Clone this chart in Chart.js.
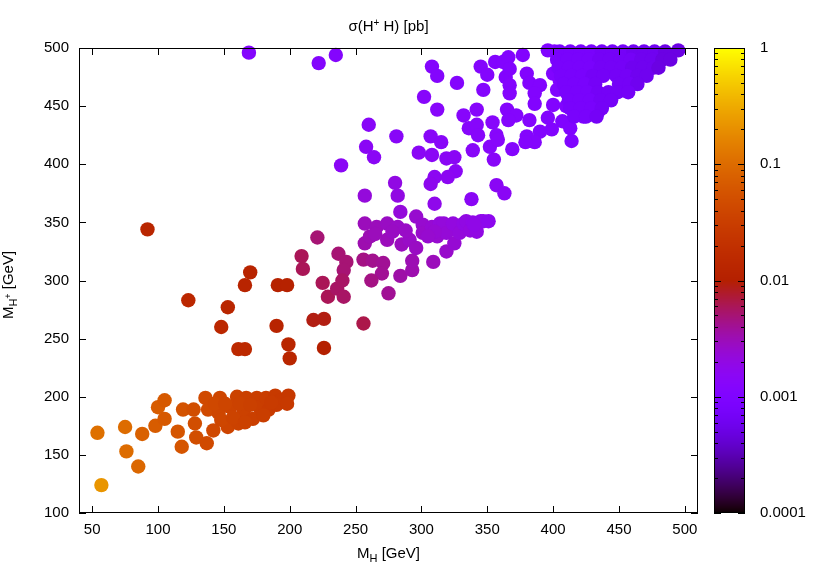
<!DOCTYPE html>
<html>
<head>
<meta charset="utf-8">
<script src="https://cdn.jsdelivr.net/npm/chart.js@4/dist/chart.umd.min.js"></script>
<style>
  html, body { margin: 0; padding: 0; background: #fff; }
</style>
</head>
<body>
<canvas id="grafico" width="830" height="581"></canvas>
<script>
// Massas (GeV) e seções de choque (pb), ponto a ponto
const mH = [
  57, 54, 75, 76, 85, 88, 98, 100, 105, 105,
  115, 118, 119, 127, 128, 129, 137, 136, 142, 138,
  147, 146, 153, 148, 160, 155, 161, 167, 165, 172,
  175, 177, 184, 182, 189, 193, 199, 190, 198, 143,
  151, 162, 170, 157, 166, 180, 186,
  92, 123, 153, 148, 161, 166, 166, 170, 190, 191,
  198, 199, 200, 218, 226, 226, 256,
  209, 210, 221, 225, 229, 236, 237, 243, 241, 240,
  241, 256, 263, 271, 270, 262, 275, 284, 293, 293,
  309,
  257, 257, 261, 266, 274, 274, 282, 285, 291, 296,
  301, 301, 296, 308, 312, 314, 317, 319, 319, 324,
  325, 329, 332, 334, 337, 339, 342, 345, 347, 351,
  340, 310, 288, 278, 305, 265, 257, 282, 284, 310,
  338, 326, 320, 310, 307, 280,
  169, 222, 235, 239, 260, 258, 264, 281, 302, 308,
  312, 312, 307, 315, 298, 308, 319, 325, 327, 332,
  336, 342, 343, 339, 342, 345, 350, 347, 356, 354,
  357, 352, 355, 357, 363, 358, 362, 366, 377, 364,
  367, 380, 367, 367, 382, 390, 386, 386, 365, 372,
  382, 366, 396, 407, 413, 399, 390, 380, 386, 379,
  369, 414, 396, 401, 400, 405, 410, 403, 400, 410,
  419, 418, 419, 423, 423, 434,
  405, 413, 421, 429, 437, 445, 453, 461, 469, 477,
  485, 495, 403, 411, 419, 427, 435, 443, 451, 459,
  467, 475, 483, 489, 404, 412, 420, 428, 436, 444,
  452, 460, 468, 476, 480, 406, 414, 422, 430, 438,
  448, 456, 464, 471, 408, 416, 424, 432, 450, 458,
  464, 410, 418, 426, 434, 442, 449, 457, 412, 420,
  428, 436, 444, 413, 421, 429, 437, 416, 425, 433
];
const mHp = [
  124, 169, 174, 153, 140, 168, 175, 191, 197, 181,
  170, 157, 189, 189, 177, 165, 160, 199, 171, 189,
  199, 186, 174, 180, 200, 191, 177, 199, 187, 181,
  199, 191, 189, 199, 201, 197, 201, 193, 194, 194,
  194, 194, 193, 182, 178, 184, 195,
  344, 283, 277, 260, 241, 241, 296, 307, 261, 296,
  296, 245, 233, 266, 267, 242, 263,
  321, 310, 337, 298, 286, 293, 323, 316, 309, 300,
  286, 318, 317, 315, 306, 300, 289, 304, 309, 317,
  316,
  349, 332, 338, 346, 349, 335, 346, 331, 335, 355,
  348, 341, 328, 346, 338, 349, 349, 341, 325, 349,
  332, 341, 349, 351, 343, 350, 342, 351, 351, 351,
  348, 342, 343, 342, 338, 340, 373, 373, 359, 366,
  370, 394, 389, 389, 383, 384,
  496, 487, 494, 399, 434, 415, 406, 424, 458, 484,
  476, 447, 424, 419, 410, 408, 405, 406, 470, 442,
  431, 434, 425, 412, 447, 484, 477, 464, 488, 436,
  425, 415, 404, 382, 375, 421, 488, 492, 494, 475,
  482, 478, 468, 461, 470, 468, 461, 452, 447, 442,
  438, 438, 440, 437, 431, 430, 428, 424, 419, 419,
  413, 420, 498, 497, 478, 472, 481, 464, 451, 450,
  490, 472, 461, 452, 441, 445,
  497, 497, 497, 497, 497, 497, 497, 497, 497, 497,
  497, 498, 490, 490, 490, 490, 490, 490, 490, 490,
  490, 490, 490, 490, 483, 483, 483, 483, 483, 483,
  483, 483, 483, 483, 483, 476, 476, 476, 476, 476,
  476, 476, 476, 476, 469, 469, 469, 469, 469, 469,
  469, 462, 462, 462, 462, 462, 462, 462, 455, 455,
  455, 455, 455, 448, 448, 448, 448, 441, 441, 441
];
const sigma = [
  0.22, 0.11, 0.1, 0.1, 0.09, 0.08, 0.07, 0.07, 0.065, 0.065,
  0.06, 0.06, 0.055, 0.05, 0.05, 0.05, 0.045, 0.045, 0.042, 0.045,
  0.04, 0.04, 0.038, 0.04, 0.035, 0.037, 0.035, 0.033, 0.034, 0.032,
  0.031, 0.031, 0.029, 0.03, 0.028, 0.027, 0.026, 0.028, 0.027, 0.042,
  0.039, 0.035, 0.033, 0.037, 0.034, 0.031, 0.029,
  0.013, 0.014, 0.013, 0.014, 0.015, 0.015, 0.012, 0.012, 0.012, 0.011,
  0.011, 0.013, 0.013, 0.009, 0.009, 0.01, 0.0065,
  0.006, 0.006, 0.005, 0.006, 0.006, 0.0055, 0.005, 0.005, 0.005, 0.0055,
  0.0055, 0.0045, 0.0042, 0.004, 0.004, 0.0045, 0.004, 0.0035, 0.0033, 0.0032,
  0.003,
  0.003, 0.0033, 0.0032, 0.003, 0.0028, 0.003, 0.0027, 0.0029, 0.0027, 0.0025,
  0.0025, 0.0026, 0.0028, 0.0024, 0.0025, 0.0022, 0.0022, 0.0023, 0.0026, 0.0021,
  0.0024, 0.0022, 0.002, 0.002, 0.0021, 0.0019, 0.002, 0.0018, 0.0018, 0.0017,
  0.0019, 0.0024, 0.0027, 0.0028, 0.0025, 0.003, 0.0022, 0.002, 0.0022, 0.0018,
  0.0015, 0.0015, 0.0016, 0.0016, 0.0017, 0.002,
  0.0012, 0.0012, 0.0012, 0.0015, 0.0014, 0.0015, 0.0015, 0.0014, 0.0013, 0.0012,
  0.0012, 0.0013, 0.0014, 0.0014, 0.0015, 0.0015, 0.0015, 0.0015, 0.0012, 0.0013,
  0.0013, 0.0013, 0.0013, 0.0014, 0.0013, 0.0012, 0.0012, 0.0012, 0.0011, 0.0013,
  0.0013, 0.0013, 0.0014, 0.0015, 0.0015, 0.0013, 0.0011, 0.0011, 0.0011, 0.0011,
  0.0011, 0.0011, 0.0012, 0.0012, 0.0011, 0.0011, 0.0011, 0.0011, 0.0012, 0.0012,
  0.0012, 0.0012, 0.0011, 0.001, 0.001, 0.0011, 0.0011, 0.0012, 0.0012, 0.0012,
  0.0012, 0.001, 0.001, 0.001, 0.001, 0.001, 0.001, 0.001, 0.0011, 0.001,
  0.001, 0.001, 0.001, 0.001, 0.001, 0.00095,
  0.0008, 0.0008, 0.0008, 0.0008, 0.0007, 0.0007, 0.0007, 0.0006, 0.0006, 0.0006,
  0.0005, 0.0005, 0.0008, 0.0008, 0.0008, 0.0008, 0.0007, 0.0007, 0.0007, 0.0007,
  0.0006, 0.0006, 0.0005, 0.0005, 0.0008, 0.0008, 0.0008, 0.0008, 0.0007, 0.0007,
  0.0007, 0.0006, 0.0006, 0.0006, 0.0005, 0.0008, 0.0008, 0.0008, 0.0007, 0.0007,
  0.0007, 0.0007, 0.0006, 0.0006, 0.0008, 0.0008, 0.0008, 0.0007, 0.0007, 0.0007,
  0.0006, 0.0008, 0.0008, 0.0008, 0.0007, 0.0007, 0.0007, 0.0007, 0.0008, 0.0008,
  0.0008, 0.0007, 0.0007, 0.0008, 0.0008, 0.0008, 0.0007, 0.0008, 0.0008, 0.0007
];

// Marcas dos eixos
const xTicks = [50, 100, 150, 200, 250, 300, 350, 400, 450, 500];
const yTicks = [100, 150, 200, 250, 300, 350, 400, 450, 500];
const cbTicks = [0.0001, 0.001, 0.01, 0.1, 1];

const FONTE = '"Liberation Sans", Arial, sans-serif';
const TAM = 15;

// Paleta padrão do gnuplot (rgbformulae 7,5,15)
function paleta(t) {
  t = Math.min(1, Math.max(0, t));
  const r = Math.sqrt(t);
  const g = t * t * t;
  const b = Math.max(0, Math.sin(2 * Math.PI * t));
  return `rgb(${Math.round(255 * r)},${Math.round(255 * g)},${Math.round(255 * b)})`;
}
const corDe = v => paleta((Math.log10(v) + 4) / 4);

// Escreve texto com índices (sub/sobrescrito), partes: [texto, tamanho, deslocamento]
function larguraPartes(ctx, partes) {
  let w = 0;
  partes.forEach(p => { ctx.font = `${p[1]}px ${FONTE}`; w += ctx.measureText(p[0]).width; });
  return w;
}
function escrevePartes(ctx, partes, x, y) {
  partes.forEach(p => {
    ctx.font = `${p[1]}px ${FONTE}`;
    ctx.fillText(p[0], x, y + p[2]);
    x += ctx.measureText(p[0]).width;
  });
}

const moldura = {
  id: 'moldura',
  afterDatasetsDraw(chart) {
    const { ctx, chartArea: a, scales } = chart;
    ctx.save();
    ctx.strokeStyle = '#000';
    ctx.fillStyle = '#000';
    ctx.lineWidth = 1;

    // caixa do gráfico e marcas internas (espelhadas)
    ctx.strokeRect(a.left + 0.5, a.top + 0.5, a.right - a.left - 1, a.bottom - a.top - 1);
    ctx.beginPath();
    xTicks.forEach(v => {
      const px = Math.round(scales.x.getPixelForValue(v)) + 0.5;
      ctx.moveTo(px, a.bottom); ctx.lineTo(px, a.bottom - 7);
      ctx.moveTo(px, a.top); ctx.lineTo(px, a.top + 7);
    });
    yTicks.forEach(v => {
      const py = Math.round(scales.y.getPixelForValue(v)) + 0.5;
      ctx.moveTo(a.left, py); ctx.lineTo(a.left + 7, py);
      ctx.moveTo(a.right, py); ctx.lineTo(a.right - 7, py);
    });
    ctx.stroke();

    // barra de cores
    const cb = scales.cb;
    const x0 = a.right + 16, x1 = a.right + 47;
    for (let py = Math.floor(cb.top); py < cb.bottom; py++) {
      ctx.fillStyle = corDe(cb.getValueForPixel(py + 0.5));
      ctx.fillRect(x0, py, x1 - x0, 1);
    }
    ctx.strokeRect(x0 + 0.5, cb.top + 0.5, x1 - x0 - 1, cb.bottom - cb.top - 1);
    ctx.beginPath();
    for (let d = -4; d < 0; d++) {
      for (let k = 1; k < 10; k++) {
        const py = Math.round(cb.getPixelForValue(k * Math.pow(10, d))) + 0.5;
        const len = k === 1 ? 7 : 4;
        ctx.moveTo(x0, py); ctx.lineTo(x0 + len, py);
        ctx.moveTo(x1, py); ctx.lineTo(x1 - len, py);
      }
    }
    ctx.stroke();

    // títulos
    ctx.fillStyle = '#000';
    ctx.textBaseline = 'alphabetic';
    ctx.textAlign = 'left';
    const titulo = [['σ(H', TAM, 0], ['+', 10, -5], [' H) [pb]', TAM, 0]];
    escrevePartes(ctx, titulo, (a.left + a.right) / 2 - larguraPartes(ctx, titulo) / 2, 31);

    const tituloX = [['M', TAM, 0], ['H', 11, 4], [' [GeV]', TAM, 0]];
    escrevePartes(ctx, tituloX, (a.left + a.right) / 2 - larguraPartes(ctx, tituloX) / 2, 558);

    const tituloY = [['M', TAM, 0], ['H', 11, 4], ['+', 9, -2], [' [GeV]', TAM, 0]];
    ctx.translate(13, 285);
    ctx.rotate(-Math.PI / 2);
    escrevePartes(ctx, tituloY, -larguraPartes(ctx, tituloY) / 2, 0);
    ctx.restore();
  }
};

Chart.defaults.color = '#000';
Chart.defaults.font.family = FONTE;
Chart.defaults.font.size = TAM;

const pontos = mH.map((x, i) => ({ x: x, y: mHp[i] }));

new Chart(document.getElementById('grafico').getContext('2d'), {
  type: 'scatter',
  data: {
    datasets: [{
      data: pontos,
      pointRadius: 7.2,
      pointBorderWidth: 0,
      backgroundColor: c => corDe(sigma[c.dataIndex]),
      clip: false
    }]
  },
  options: {
    responsive: false,
    animation: false,
    events: [],
    layout: { padding: { top: 48, left: 0, right: 0, bottom: 0 } },
    plugins: {
      legend: { display: false },
      tooltip: { enabled: false },
      title: { display: false }
    },
    scales: {
      x: {
        type: 'linear', min: 40, max: 510,
        grid: { display: false, drawTicks: false },
        border: { display: false },
        ticks: { padding: 8, maxRotation: 0 },
        afterBuildTicks: s => { s.ticks = xTicks.map(v => ({ value: v })); },
        afterFit: s => { s.height = 68; }
      },
      y: {
        type: 'linear', min: 100, max: 500,
        grid: { display: false, drawTicks: true, tickLength: 6 },
        border: { display: false },
        ticks: { padding: 4 },
        afterBuildTicks: s => { s.ticks = yTicks.map(v => ({ value: v })); },
        afterFit: s => { s.width = 79; }
      },
      cb: {
        type: 'logarithmic', position: 'right', min: 0.0001, max: 1,
        grid: { display: false, drawTicks: true, tickLength: 56 },
        border: { display: false },
        ticks: { padding: 6, callback: v => String(v) },
        afterBuildTicks: s => { s.ticks = cbTicks.map(v => ({ value: v })); },
        afterFit: s => { s.width = 132; }
      }
    }
  },
  plugins: [moldura]
});
</script>
</body>
</html>
